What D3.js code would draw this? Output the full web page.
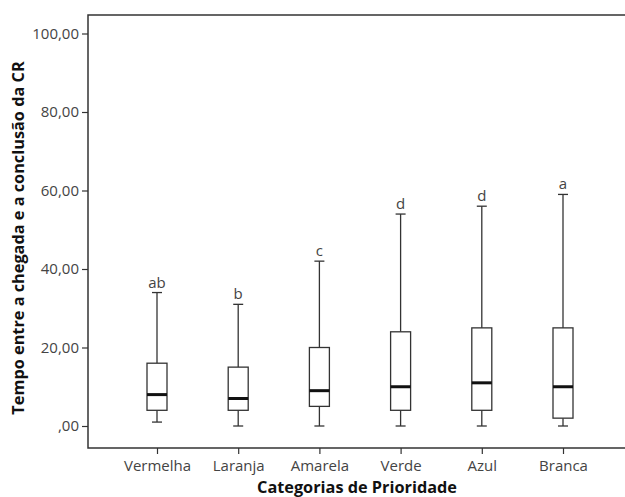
<!DOCTYPE html>
<html><head><meta charset="utf-8">
<script src="https://cdn.jsdelivr.net/npm/d3@7"></script>
<style>body{margin:0;background:#fff}svg{display:block}text{font-family:"Open Sans","Noto Sans",sans-serif}</style>
</head><body><svg id="c" width="625" height="497"></svg>
<script>
const categories = ["Vermelha","Laranja","Amarela","Verde","Azul","Branca"];
const whiskerLow = [1,0,0,0,0,0];
const q1 = [4,4,5,4,4,2];
const median = [8,7,9,10,11,10];
const q3 = [16,15,20,24,25,25];
const whiskerHigh = [34,31,42,54,56,59];
const letters = ["ab","b","c","d","d","a"];
const yTicks = [0,20,40,60,80,100];

const svg = d3.select("#c");
const frame = {left:88, top:15, bottom:448, right:626};
const x = d3.scalePoint().domain(categories).range([157,563]);
const y = d3.scaleLinear().domain([0,100]).range([426,33.5]);
const fmt = d => d===0 ? ",00" : d3.format(".2f")(d).replace(".",",");
const col = "#333";
const fs = 15;

// frame
svg.append("path").attr("d",`M${frame.right},${frame.top}H${frame.left}V${frame.bottom}H${frame.right}`)
  .attr("fill","none").attr("stroke",col).attr("stroke-width",1.5);

// y axis
const ya = svg.append("g").attr("transform",`translate(${frame.left},0)`)
  .call(d3.axisLeft(y).tickValues(yTicks).tickFormat(fmt).tickSize(6).tickPadding(3));
ya.select(".domain").remove();
ya.selectAll("line").attr("stroke",col).attr("stroke-width",1.2);
ya.selectAll("text").attr("font-size",fs).attr("fill","#444");

// x axis
const xa = svg.append("g").attr("transform",`translate(0,${frame.bottom})`)
  .call(d3.axisBottom(x).tickSize(6).tickPadding(6));
xa.select(".domain").remove();
xa.selectAll("line").attr("stroke",col).attr("stroke-width",1.2);
xa.selectAll("text").attr("font-size",fs).attr("fill","#444");

const bw = 20, cw = 10;
const g = svg.append("g").selectAll("g").data(categories).join("g");
g.each(function(c,i){
  const s = d3.select(this), cx = x(c);
  s.append("line").attr("x1",cx).attr("x2",cx).attr("y1",y(whiskerHigh[i])).attr("y2",y(q3[i]))
    .attr("stroke",col).attr("stroke-width",1.3);
  s.append("line").attr("x1",cx).attr("x2",cx).attr("y1",y(q1[i])).attr("y2",y(whiskerLow[i]))
    .attr("stroke",col).attr("stroke-width",1.3);
  [whiskerHigh[i],whiskerLow[i]].forEach(v=>{
    s.append("line").attr("x1",cx-cw/2).attr("x2",cx+cw/2).attr("y1",y(v)).attr("y2",y(v))
      .attr("stroke",col).attr("stroke-width",1.3);
  });
  s.append("rect").attr("x",cx-bw/2).attr("width",bw).attr("y",y(q3[i])).attr("height",y(q1[i])-y(q3[i]))
    .attr("fill","#fff").attr("stroke",col).attr("stroke-width",1.3);
  s.append("line").attr("x1",cx-bw/2).attr("x2",cx+bw/2).attr("y1",y(median[i])).attr("y2",y(median[i]))
    .attr("stroke","#111").attr("stroke-width",3);
  s.append("text").attr("x",cx).attr("y",y(whiskerHigh[i])-5).attr("text-anchor","middle")
    .attr("font-size",fs).attr("fill","#444").text(letters[i]);
});

svg.append("text").attr("transform","translate(24,238) rotate(-90)").attr("text-anchor","middle")
  .attr("font-size",16.3).attr("font-weight","bold").attr("fill","#111")
  .text("Tempo entre a chegada e a conclusão da CR");
svg.append("text").attr("x",357).attr("y",493).attr("text-anchor","middle")
  .attr("font-size",16.3).attr("font-weight","bold").attr("fill","#111")
  .text("Categorias de Prioridade");
</script></body></html>
